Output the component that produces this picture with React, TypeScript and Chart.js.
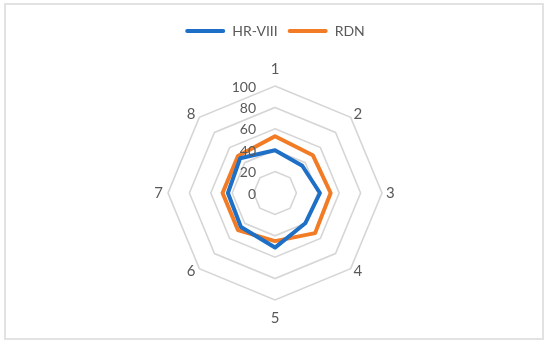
import React, { useEffect, useRef } from "react";
import { Chart, registerables } from "chart.js";

Chart.register(...registerables);

const categories = ["1", "2", "3", "4", "5", "6", "7", "8"];
const hrViiiValues = [40, 36, 42, 40, 51, 45, 44, 46];
const rdnValues = [53, 50, 52, 53, 45, 49, 49, 49];
const seriesNames = ["HR-VIII", "RDN"];
const seriesColors = ["#1E6FC6", "#F27C26"];
const tickMin = 0;
const tickMax = 100;
const tickStep = 20;

const FONT = "Lato";
const TEXT_COLOR = "#595959";

const labelsPlugin = {
  id: "excelLabels",
  beforeInit(chart: any) {
    const legend = chart.legend;
    if (legend && !legend.__patched) {
      const origFit = legend.fit.bind(legend);
      legend.fit = function () {
        origFit();
        this.height += 38;
      };
      legend.__patched = true;
    }
  },
  afterDraw(chart: any) {
    const scale = chart.scales.r;
    const ctx = chart.ctx;
    ctx.save();
    ctx.fillStyle = TEXT_COLOR;
    ctx.font = `14px ${FONT}`;
    ctx.textAlign = "right";
    ctx.textBaseline = "middle";
    scale.ticks.forEach((t: any) => {
      const d = scale.getDistanceFromCenterForValue(t.value);
      ctx.fillText(String(t.value), scale.xCenter - 19, scale.yCenter - d + 1);
    });
    ctx.font = `15px ${FONT}`;
    const R = scale.drawingArea;
    categories.forEach((lab, i) => {
      const a = scale.getIndexAngle(i);
      const s = Math.sin(a);
      const c = Math.cos(a);
      const p = scale.getPointPosition(i, R + 4);
      if (c > 0.99) {
        ctx.textAlign = "center";
        ctx.textBaseline = "alphabetic";
        ctx.fillText(lab, p.x, p.y - 8);
      } else if (c < -0.99) {
        ctx.textAlign = "center";
        ctx.textBaseline = "alphabetic";
        ctx.fillText(lab, p.x, p.y + 19);
      } else {
        ctx.textAlign = s > 0 ? "left" : "right";
        ctx.textBaseline = "middle";
        ctx.fillText(lab, p.x + (s > 0 ? 0 : -1), p.y);
      }
    });
    ctx.restore();
  },
};

export default function App() {
  const canvasRef = useRef<HTMLCanvasElement | null>(null);

  useEffect(() => {
    document.body.style.margin = "0";
    const canvas = canvasRef.current;
    if (!canvas) return;
    const chart = new Chart(canvas, {
      type: "radar",
      data: {
        labels: categories,
        datasets: [
          {
            label: seriesNames[0],
            data: hrViiiValues,
            borderColor: seriesColors[0],
            backgroundColor: seriesColors[0],
            borderWidth: 4,
            pointRadius: 0,
            pointHoverRadius: 0,
            fill: false,
            borderJoinStyle: "round",
          },
          {
            label: seriesNames[1],
            data: rdnValues,
            borderColor: seriesColors[1],
            backgroundColor: seriesColors[1],
            borderWidth: 4,
            pointRadius: 0,
            pointHoverRadius: 0,
            fill: false,
            borderJoinStyle: "round",
          },
        ],
      },
      options: {
        animation: false,
        responsive: false,
        maintainAspectRatio: false,
        layout: { padding: { top: 14, bottom: 45, left: 0, right: 0 } },
        plugins: {
          tooltip: { enabled: false },
          legend: {
            display: true,
            position: "top",
            align: "center",
            labels: {
              boxWidth: 40,
              boxHeight: 4,
              padding: 10,
              color: TEXT_COLOR,
              font: { family: FONT, size: 14 },
              useBorderRadius: true,
              borderRadius: 2,
              generateLabels: (ch: any) =>
                Chart.defaults.plugins.legend.labels
                  .generateLabels(ch)
                  .map((l: any) => ({ ...l, lineWidth: 0, fillStyle: l.strokeStyle, borderRadius: 2 })),
            },
          },
        },
        scales: {
          r: {
            min: tickMin,
            max: tickMax,
            ticks: { stepSize: tickStep, display: false },
            grid: { color: "#D6D6D6", lineWidth: 1.6, circular: false },
            angleLines: { display: false },
            pointLabels: { display: false },
          },
        },
      },
      plugins: [labelsPlugin],
    } as any);
    return () => chart.destroy();
  }, []);

  return (
    <div style={{ position: "relative", width: 550, height: 345, background: "#fff" }}>
      <canvas ref={canvasRef} width={550} height={345} style={{ position: "absolute", left: 0, top: 0, width: 550, height: 345 }} />
      <div
        style={{
          position: "absolute",
          left: 4,
          top: 3,
          width: 540,
          height: 337,
          boxSizing: "border-box",
          border: "2px solid #E2E2E2",
          pointerEvents: "none",
        }}
      />
    </div>
  );
}
